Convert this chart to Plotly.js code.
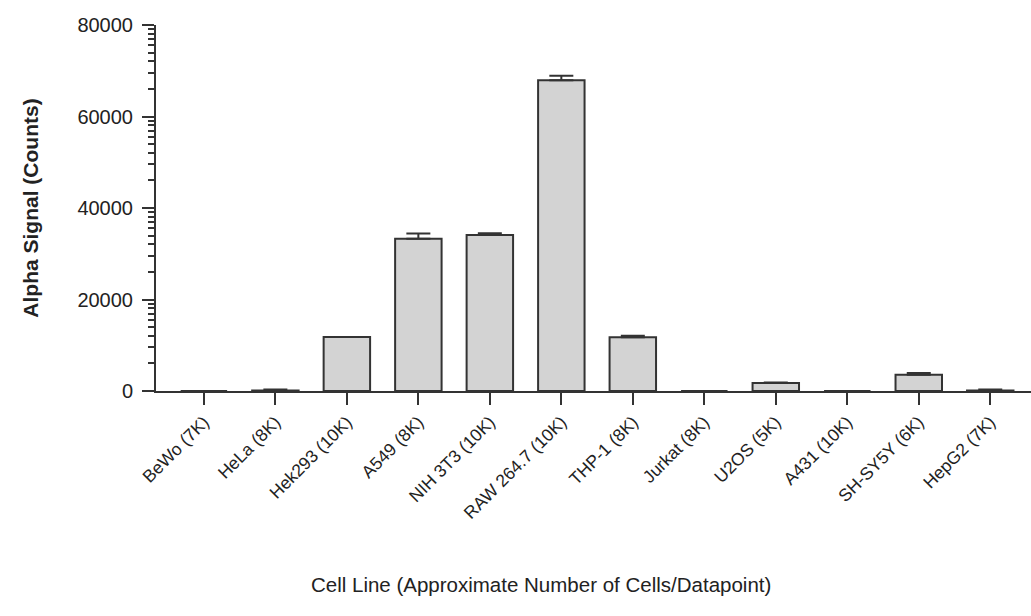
<!DOCTYPE html>
<html>
<head>
<meta charset="utf-8">
<script src="https://cdn.plot.ly/plotly-3.0.1.min.js"></script>
<style>html,body{margin:0;padding:0;background:#fff;}#chart{width:1031px;height:616px;}</style>
</head>
<body>
<div id="chart"></div>
<script>
var cellLines = ["BeWo (7K)", "HeLa (8K)", "Hek293 (10K)", "A549 (8K)", "NIH 3T3 (10K)", "RAW 264.7 (10K)", "THP-1 (8K)", "Jurkat (8K)", "U2OS (5K)", "A431 (10K)", "SH-SY5Y (6K)", "HepG2 (7K)"];
var alphaSignal = [0, 100, 11800, 33300, 34100, 67900, 11750, 0, 1750, 0, 3560, 100];
var alphaError = [0, 250, 0, 1100, 400, 1000, 350, 0, 100, 0, 350, 250];
var yTickVals = [0, 20000, 40000, 60000, 80000];
var xTitle = "Cell Line (Approximate Number of Cells/Datapoint)";
var yTitle = "Alpha Signal (Counts)";

// Prism-style minor ticks (log-spaced within each major interval)
var minorVals = [];
for (var i = 0; i < yTickVals.length - 1; i++) {
  var step = yTickVals[i + 1] - yTickVals[i];
  for (var k = 2; k <= 9; k++) minorVals.push(yTickVals[i] + step * Math.log10(k));
}

var axisColor = "#333333";
var fam = "Liberation Sans, Arial, sans-serif";
var trace = {
  type: "bar",
  x: cellLines,
  y: alphaSignal,
  width: 0.65,
  marker: {color: "#d3d3d3", line: {color: "#333333", width: 2}},
  error_y: {type: "data", symmetric: false, array: alphaError, arrayminus: alphaError.map(function(){return 0;}), color: "#333333", thickness: 2, width: 12, visible: true},
  hoverinfo: "x+y"
};

var layout = {
  width: 1031, height: 616,
  margin: {l: 156, r: 0, t: 25, b: 225},
  paper_bgcolor: "#ffffff", plot_bgcolor: "#ffffff",
  font: {family: fam, color: "#222222", size: 16},
  showlegend: false,
  xaxis: {
    type: "category",
    range: [-0.67, 11.57],
    showline: true, linecolor: axisColor, linewidth: 2,
    ticks: "outside", ticklen: 12, tickwidth: 2, tickcolor: axisColor,
    tickangle: -45,
    tickfont: {size: 17.5, family: fam, color: "#222222"},
    showgrid: false, zeroline: false
  },
  yaxis: {
    range: [0, 80000],
    tickmode: "array", tickvals: yTickVals, ticktext: yTickVals.map(String),
    showline: true, linecolor: axisColor, linewidth: 2,
    ticks: "outside", ticklen: 12, tickwidth: 2, tickcolor: axisColor,
    tickfont: {size: 20, family: fam, color: "#222222"},
    ticklabelstandoff: 5,
    minor: {tickmode: "array", tickvals: minorVals, ticks: "outside", ticklen: 6, tickwidth: 2, tickcolor: axisColor, showgrid: false},
    showgrid: false, zeroline: false,
    title: {text: "<b>" + yTitle + "</b>", font: {size: 21, family: fam, color: "#222222"}, standoff: 33}
  },
  annotations: [{
    text: xTitle, xref: "paper", yref: "paper", x: 0.44, y: -0.53,
    xanchor: "center", yanchor: "middle", showarrow: false,
    font: {size: 20.5, family: fam, color: "#222222"}
  }]
};

Plotly.newPlot("chart", [trace], layout, {displayModeBar: false, staticPlot: true});
</script>
</body>
</html>
